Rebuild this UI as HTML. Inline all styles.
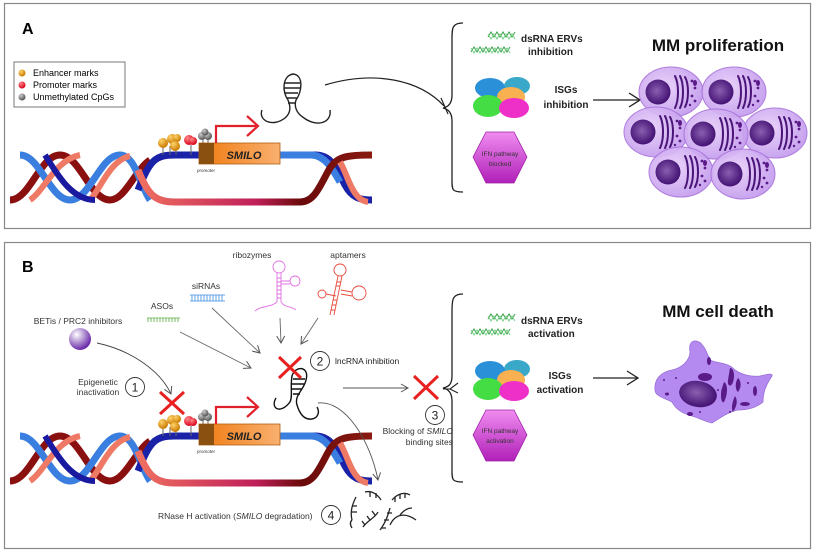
<!DOCTYPE html>
<html><head><meta charset="utf-8"><style>
html,body{margin:0;padding:0;background:#fff;}
svg{display:block;font-family:"Liberation Sans",Arial,sans-serif;}
</style></head><body>
<svg width="815" height="553" viewBox="0 0 815 553" xmlns="http://www.w3.org/2000/svg">
<defs>
<radialGradient id="cellg" cx="40%" cy="40%" r="70%"><stop offset="0" stop-color="#e8d0fa"/><stop offset="1" stop-color="#c096ec"/></radialGradient>
<radialGradient id="nuc" cx="45%" cy="45%" r="60%"><stop offset="0" stop-color="#8a5fb0"/><stop offset="1" stop-color="#3d0b6e"/></radialGradient>
<radialGradient id="sph" cx="35%" cy="30%" r="70%"><stop offset="0" stop-color="#fff"/><stop offset="1" stop-color="#6a2aa8"/></radialGradient>
<radialGradient id="org" cx="35%" cy="30%" r="70%"><stop offset="0" stop-color="#ffd36a"/><stop offset="1" stop-color="#c97a00"/></radialGradient>
<radialGradient id="redb" cx="35%" cy="30%" r="70%"><stop offset="0" stop-color="#ff8a8a"/><stop offset="1" stop-color="#d8001a"/></radialGradient>
<radialGradient id="gryb" cx="35%" cy="30%" r="70%"><stop offset="0" stop-color="#ccc"/><stop offset="1" stop-color="#555"/></radialGradient>
<linearGradient id="smilo" x1="0" x2="1"><stop offset="0" stop-color="#f07a10"/><stop offset="1" stop-color="#f9b070"/></linearGradient>
<linearGradient id="hex" x1="0" y1="0" x2="0" y2="1"><stop offset="0" stop-color="#f08cf0"/><stop offset="1" stop-color="#b020b8"/></linearGradient>
<linearGradient id="botstr" x1="0" x2="1"><stop offset="0" stop-color="#f07060"/><stop offset="0.5" stop-color="#c0205a"/><stop offset="0.7" stop-color="#6a0a0a"/><stop offset="1" stop-color="#8a1a10"/></linearGradient>
<marker id="ah" markerWidth="10" markerHeight="10" refX="8" refY="5" orient="auto" markerUnits="userSpaceOnUse"><path d="M1,1 L8,5 L1,9" fill="none" stroke="#555" stroke-width="1"/></marker>
<marker id="ahb" markerWidth="16" markerHeight="16" refX="13" refY="8" orient="auto" markerUnits="userSpaceOnUse"><path d="M2,1 L13,8 L2,15" fill="none" stroke="#222" stroke-width="1.3"/></marker>

<g id="dna">
  <path d="M10,200 C30,200 40,155 60,155 C80,155 90,200 110,200 C125,200 135,170 150,160" fill="none" stroke="#8a1010" stroke-width="7"/>
  <path d="M20,155 C40,155 50,200 70,200 C90,200 100,155 120,155 C135,155 140,185 150,200" fill="none" stroke="#3a7fe0" stroke-width="7"/>
  <path d="M30,200 C45,190 55,160 80,155 M90,200 C100,190 110,160 130,156" fill="none" stroke="#ee7a66" stroke-width="6"/>
  <path d="M45,155 C55,170 70,200 95,200" fill="none" stroke="#1a1aa0" stroke-width="6"/>
  <path d="M138,190 C150,160 155,155 175,155 L315,155 C330,155 335,165 345,185 C352,198 360,200 372,200" fill="none" stroke="#1a22a8" stroke-width="7"/>
  <path d="M280,155 L312,155 C325,156 332,168 340,182" fill="none" stroke="#3a7fe0" stroke-width="7"/>
  <path d="M138,170 C148,195 155,202 175,202 L300,202 C315,202 320,185 330,168 C338,157 345,155 372,155" fill="none" stroke="url(#botstr)" stroke-width="7"/>
  <path d="M340,162 C348,175 352,200 368,202" fill="none" stroke="#ee7a66" stroke-width="6"/>
  <g stroke="#666" stroke-width="1">
    <line x1="163" y1="146" x2="163" y2="155"/><line x1="170" y1="146" x2="170" y2="155"/><line x1="176" y1="146" x2="176" y2="155"/><line x1="191" y1="145" x2="191" y2="155"/><line x1="203" y1="140" x2="203" y2="145"/><line x1="208" y1="140" x2="208" y2="145"/>
  </g>
  <circle cx="163" cy="143" r="5" fill="url(#org)"/><circle cx="172" cy="139" r="5" fill="url(#org)"/><circle cx="177" cy="138" r="4" fill="url(#org)"/><circle cx="175" cy="146" r="5" fill="url(#org)"/>
  <circle cx="189" cy="140" r="5" fill="url(#redb)"/><circle cx="193" cy="141" r="4" fill="url(#redb)"/>
  <circle cx="202" cy="136" r="4" fill="url(#gryb)"/><circle cx="208" cy="136" r="4" fill="url(#gryb)"/><circle cx="205" cy="132" r="3.5" fill="url(#gryb)"/>
  <rect x="199" y="143" width="81" height="21" fill="url(#smilo)" stroke="#b06010" stroke-width="0.8"/>
  <rect x="199" y="143" width="15" height="21" fill="#8a5010"/>
  <text x="244" y="159" font-size="11" font-weight="bold" font-style="italic" fill="#222" text-anchor="middle">SMILO</text>
  <text x="206" y="172" font-size="4.5" fill="#333" text-anchor="middle">promoter</text>
  <path d="M216,143 L216,126 L256,126" fill="none" stroke="#e0202a" stroke-width="2.2"/>
  <path d="M247,116 L258,126 L247,136" fill="none" stroke="#e0202a" stroke-width="2.2"/>
</g>

<g id="dsr">
  <path d="M488,37 l3,-5 l3,5 l3,-5 l3,5 l3,-5 l3,5 l3,-5 l3,5 l3,-5" fill="none" stroke="#3aa04a" stroke-width="1"/>
  <path d="M488,34 l3,5 l3,-5 l3,5 l3,-5 l3,5 l3,-5 l3,5 l3,-5 l3,5" fill="none" stroke="#7ad08a" stroke-width="1"/>
  <path d="M471,52 l3,-5 l3,5 l3,-5 l3,5 l3,-5 l3,5 l3,-5 l3,5 l3,-5 l3,5 l3,-5 l3,5 l3,-5" fill="none" stroke="#3aa04a" stroke-width="1"/>
  <path d="M471,48 l3,5 l3,-5 l3,5 l3,-5 l3,5 l3,-5 l3,5 l3,-5 l3,5 l3,-5 l3,5 l3,-5 l3,5" fill="none" stroke="#7ad08a" stroke-width="1"/>
</g>
<g id="isgs">
  <ellipse cx="517" cy="86" rx="13" ry="9" fill="#3aa8c8"/>
  <ellipse cx="490" cy="88" rx="15" ry="10" fill="#2a90d8"/>
  <ellipse cx="511" cy="97" rx="14" ry="10" fill="#f8b050"/>
  <ellipse cx="488" cy="106" rx="15" ry="11" fill="#44dd44"/>
  <ellipse cx="514" cy="108" rx="15" ry="10" fill="#ee30c8"/>
</g>
<g id="cell">
  <ellipse cx="0" cy="0" rx="32" ry="25" fill="url(#cellg)" stroke="#a874dc" stroke-width="1" opacity="0.93"/>
  <circle cx="-13" cy="0" r="12.5" fill="url(#nuc)"/>
  <g stroke="#4a1478" stroke-width="2" fill="none" stroke-linecap="round">
    <path d="M4,-16 C8,-8 8,8 4,16"/><path d="M9,-16 C13,-8 13,8 9,16"/><path d="M14,-15 C18,-8 18,8 14,15"/>
  </g>
  <g fill="#5a1a88"><circle cx="21" cy="-11" r="1.4"/><circle cx="24" cy="-4" r="1.4"/><circle cx="21" cy="4" r="1.4"/><circle cx="24" cy="9" r="1.4"/><circle cx="19" cy="13" r="1.2"/><ellipse cx="24" cy="-9" rx="2" ry="3"/></g>
</g>
</defs>

<rect x="4.5" y="3.5" width="806" height="225" fill="none" stroke="#888" stroke-width="1.2"/>
<rect x="4.5" y="242.5" width="806" height="306" fill="none" stroke="#888" stroke-width="1.2"/>

<!-- ===== PANEL A ===== -->
<text x="22" y="34" font-size="16" font-weight="bold">A</text>
<rect x="14" y="62" width="111" height="45" fill="#fff" stroke="#777" stroke-width="1"/>
<circle cx="22" cy="73" r="3.5" fill="url(#org)"/><text x="33" y="76" font-size="9">Enhancer marks</text>
<circle cx="22" cy="85" r="3.5" fill="url(#redb)"/><text x="33" y="88" font-size="9">Promoter marks</text>
<circle cx="22" cy="97" r="3.5" fill="url(#gryb)"/><text x="33" y="100" font-size="9">Unmethylated CpGs</text>

<use href="#dna"/>

<g fill="none" stroke="#222" stroke-width="1.4">
  <path d="M262,110 C258,120 272,128 285,118 C292,112 290,105 288,100 C282,92 282,76 293,74 C304,75 302,92 296,100 C294,106 296,113 304,118 C318,128 332,122 330,110"/>
  <path d="M285,83 L300,83 M284,88 L300,88 M285,93 L298,93 M287,98 L297,98 M288,103 L296,103"/>
</g>
<path d="M325,85 C375,70 420,80 444,106" fill="none" stroke="#222" stroke-width="1.2"/>
<line x1="441" y1="98" x2="448" y2="114" stroke="#222" stroke-width="1.2"/>

<path d="M463,23 C452,23 452,28 452,40 L452,95 C452,104 448,107 443,108 C448,109 452,112 452,121 L452,180 C452,190 452,192 463,192" fill="none" stroke="#222" stroke-width="1.3"/>
<use href="#dsr"/>
<text x="521" y="42" font-size="10" font-weight="bold" fill="#222">dsRNA ERVs</text>
<text x="528" y="55" font-size="10" font-weight="bold" fill="#222">inhibition</text>
<use href="#isgs"/>
<text x="566" y="93" font-size="10" font-weight="bold" fill="#222" text-anchor="middle">ISGs</text>
<text x="566" y="108" font-size="10" font-weight="bold" fill="#222" text-anchor="middle">inhibition</text>
<polygon points="486,132 514,132 527,157 514,183 486,183 473,157" fill="url(#hex)" stroke="#a020a8" stroke-width="0.8" stroke-linejoin="round"/>
<text x="500" y="156" font-size="6.5" fill="#333" text-anchor="middle">IFN pathway</text>
<text x="500" y="166" font-size="6.5" fill="#333" text-anchor="middle">blocked</text>
<line x1="593" y1="100" x2="640" y2="100" stroke="#222" stroke-width="1.3" marker-end="url(#ahb)"/>
<text x="718" y="51" font-size="17" font-weight="bold" fill="#111" text-anchor="middle">MM proliferation</text>

<use href="#cell" transform="translate(671,92)"/>
<use href="#cell" transform="translate(734,92)"/>
<use href="#cell" transform="translate(775,133)"/>
<use href="#cell" transform="translate(656,132)"/>
<use href="#cell" transform="translate(716,134)"/>
<use href="#cell" transform="translate(681,172)"/>
<use href="#cell" transform="translate(743,174)"/>

<!-- ===== PANEL B ===== -->
<text x="22" y="272" font-size="16" font-weight="bold">B</text>
<use href="#dna" transform="translate(0,281)"/>

<text x="78" y="324" font-size="8.5" fill="#333" text-anchor="middle">BETis / PRC2 inhibitors</text>
<circle cx="80" cy="339" r="11" fill="url(#sph)"/>
<path d="M97,343 C130,350 160,370 171,394" fill="none" stroke="#444" stroke-width="0.9" marker-end="url(#ah)"/>
<text x="162" y="309" font-size="8.5" fill="#333" text-anchor="middle">ASOs</text>
<g stroke="#5aaa40" stroke-width="0.8"><line x1="147" y1="318" x2="180" y2="318"/><path d="M148,318v4M151,318v4M154,318v4M157,318v4M160,318v4M163,318v4M166,318v4M169,318v4M172,318v4M175,318v4M178,318v4"/></g>
<text x="206" y="289" font-size="8.5" fill="#333" text-anchor="middle">siRNAs</text>
<g stroke="#3a8ae0" stroke-width="0.8"><line x1="190" y1="295" x2="225" y2="295"/><line x1="190" y1="301" x2="225" y2="301"/><path d="M192,295v6M195,295v6M198,295v6M201,295v6M204,295v6M207,295v6M210,295v6M213,295v6M216,295v6M219,295v6M222,295v6"/></g>
<line x1="180" y1="332" x2="251" y2="368" stroke="#666" stroke-width="0.9" marker-end="url(#ah)"/>
<line x1="212" y1="308" x2="260" y2="353" stroke="#666" stroke-width="0.9" marker-end="url(#ah)"/>
<text x="252" y="258" font-size="8.5" fill="#333" text-anchor="middle">ribozymes</text>
<text x="348" y="258" font-size="8.5" fill="#333" text-anchor="middle">aptamers</text>
<g fill="none" stroke="#e070e0" stroke-width="0.9">
  <circle cx="279" cy="267" r="6"/><circle cx="295" cy="281" r="5"/>
  <path d="M277,273 L277,302 M281,273 L281,302 M281,281 L290,281 M281,284 L290,284 M277,278h4M277,282h4M277,286h4M277,290h4M277,294h4M277,298h4"/>
  <path d="M255,311 C262,305 270,308 277,302 M281,302 C285,308 292,306 296,310"/>
</g>
<g fill="none" stroke="#e84a3a" stroke-width="0.9">
  <circle cx="340" cy="270" r="6"/><circle cx="359" cy="293" r="7"/><circle cx="322" cy="294" r="4"/>
  <path d="M338,276 L330,315 M342,276 L334,315 M326,294 L336,296 M341,290 L352,292 M341,294 L352,296 M337,282h4M336,286h4M333,300h4M332,305h4M331,310h4"/>
</g>
<line x1="280" y1="318" x2="281" y2="343" stroke="#666" stroke-width="0.9" marker-end="url(#ah)"/>
<line x1="318" y1="318" x2="301" y2="344" stroke="#666" stroke-width="0.9" marker-end="url(#ah)"/>

<g fill="none" stroke="#111" stroke-width="1.4">
  <path d="M276,398 C270,408 280,415 290,402 C293,396 290,388 292,376 C295,365 310,366 306,380 C304,390 294,395 297,405 C300,415 305,420 312,419 C318,418 320,412 317,407"/>
  <path d="M293,379 L305,379 M292,384 L304,384 M292,389 L302,389 M293,394 L300,394"/>
</g>
<path d="M279,357 L301,378 M301,357 L279,378" stroke="#e82020" stroke-width="3"/>
<circle cx="320" cy="361" r="9.5" fill="#fff" stroke="#333" stroke-width="0.9"/>
<text x="320" y="365.5" font-size="12" text-anchor="middle" fill="#222">2</text>
<text x="335" y="364" font-size="8.5" fill="#222">lncRNA inhibition</text>

<text x="98" y="385" font-size="8.5" fill="#333" text-anchor="middle">Epigenetic</text>
<text x="98" y="395" font-size="8.5" fill="#333" text-anchor="middle">inactivation</text>
<circle cx="135" cy="387" r="9.5" fill="#fff" stroke="#333" stroke-width="0.9"/>
<text x="135" y="391.5" font-size="12" text-anchor="middle" fill="#222">1</text>
<path d="M160,392 L184,414 M184,392 L160,414" stroke="#e82020" stroke-width="3"/>

<line x1="343" y1="388" x2="408" y2="388" stroke="#555" stroke-width="0.9" marker-end="url(#ah)"/>
<path d="M414,376 L438,399 M438,376 L414,399" stroke="#e82020" stroke-width="3"/>
<path d="M443,389 L450,389 M450,389 L458,383 M450,389 L458,393" fill="none" stroke="#222" stroke-width="1.1"/>
<circle cx="435" cy="415" r="9.5" fill="#fff" stroke="#333" stroke-width="0.9"/>
<text x="435" y="419.5" font-size="12" text-anchor="middle" fill="#222">3</text>
<text x="453" y="434" font-size="8.5" fill="#333" text-anchor="end">Blocking of <tspan font-style="italic">SMILO</tspan></text>
<text x="453" y="445" font-size="8.5" fill="#333" text-anchor="end">binding sites</text>

<path d="M318,403 C345,400 370,440 378,480" fill="none" stroke="#555" stroke-width="0.9" marker-end="url(#ah)"/>
<text x="158" y="519" font-size="8.5" fill="#333">RNase H activation (<tspan font-style="italic">SMILO</tspan> degradation)</text>
<circle cx="331" cy="515" r="9.5" fill="#fff" stroke="#333" stroke-width="0.9"/>
<text x="331" y="519.5" font-size="12" text-anchor="middle" fill="#222">4</text>
<g fill="none" stroke="#222" stroke-width="1.3">
  <path d="M356,497 C352,505 350,512 352,520"/><path d="M352,506h5M352,512h5"/>
  <path d="M365,492 C372,490 378,495 381,500"/><path d="M370,492v5M376,493v5"/>
  <path d="M352,528 C350,525 350,522 352,520"/>
  <path d="M363,527 C368,520 375,518 378,512"/><path d="M365,525l-3,-4M370,520l-3,-4M375,515l-3,-4"/>
  <path d="M392,500 C398,493 405,492 410,495"/><path d="M395,497v5M400,494v5M405,493v5"/>
  <path d="M390,525 C395,514 405,512 416,520"/>
  <path d="M380,530 C386,522 388,515 390,508"/><path d="M381,528h5M384,520h5M387,513h5"/>
  <path d="M400,515 C404,510 408,508 412,508"/>
</g>

<path d="M463,294 C452,294 452,300 452,312 L452,376 C452,385 448,387 443,388 C448,389 452,392 452,401 L452,470 C452,480 452,482 463,482" fill="none" stroke="#222" stroke-width="1.3"/>
<use href="#dsr" transform="translate(0,282)"/>
<text x="521" y="324" font-size="10" font-weight="bold" fill="#222">dsRNA ERVs</text>
<text x="528" y="337" font-size="10" font-weight="bold" fill="#222">activation</text>
<use href="#isgs" transform="translate(0,283)"/>
<text x="560" y="379" font-size="10" font-weight="bold" fill="#222" text-anchor="middle">ISGs</text>
<text x="560" y="393" font-size="10" font-weight="bold" fill="#222" text-anchor="middle">activation</text>
<polygon points="486,410 514,410 527,435 514,461 486,461 473,435" fill="url(#hex)" stroke="#a020a8" stroke-width="0.8" stroke-linejoin="round"/>
<text x="500" y="433" font-size="6.5" fill="#333" text-anchor="middle">IFN pathway</text>
<text x="500" y="443" font-size="6.5" fill="#333" text-anchor="middle">activation</text>
<line x1="593" y1="378" x2="638" y2="378" stroke="#222" stroke-width="1.3" marker-end="url(#ahb)"/>
<text x="718" y="317" font-size="17" font-weight="bold" fill="#111" text-anchor="middle">MM cell death</text>

<path d="M694,341 C702,340 706,350 710,360 C718,364 728,362 735,370 C742,375 752,377 760,376 C768,374 773,373 772,376 C766,385 763,392 763,402 C756,408 748,410 738,410 C728,412 720,418 712,423 C705,422 700,418 692,416 C684,414 676,410 672,402 C664,398 655,396 655,390 C654,380 660,372 672,370 C682,368 690,360 690,352 C689,346 690,342 694,341 Z" fill="#b58af0" stroke="#9a70d8" stroke-width="0.8"/>
<ellipse cx="698" cy="394" rx="19" ry="13" fill="url(#nuc)" transform="rotate(10 698 394)"/>
<g fill="#5a1a88">
  <ellipse cx="705" cy="377" rx="7" ry="4"/>
  <path d="M730,368 c4,0 5,8 3,14 c-2,6 -6,4 -5,-2 z"/>
  <path d="M724,382 c4,2 4,12 0,20 c-3,2 -4,-8 -2,-14 z"/>
  <path d="M738,378 c4,4 3,10 0,14 c-3,-2 -3,-10 0,-14 z"/>
  <path d="M735,396 c3,4 2,10 -2,16 c-2,-3 -1,-10 2,-16 z"/>
  <ellipse cx="709" cy="361" rx="2" ry="4"/>
  <ellipse cx="755" cy="391" rx="2" ry="5"/>
  <ellipse cx="745" cy="404" rx="5" ry="2"/>
  <ellipse cx="690" cy="414" rx="3" ry="2"/>
  <ellipse cx="667" cy="394" rx="2" ry="1.5"/>
  <circle cx="664" cy="380" r="1"/><circle cx="676" cy="378" r="1"/><circle cx="718" cy="390" r="1"/><circle cx="700" cy="412" r="1"/><circle cx="730" cy="412" r="1"/><circle cx="748" cy="383" r="1"/>
</g>
</svg>
</body></html>
